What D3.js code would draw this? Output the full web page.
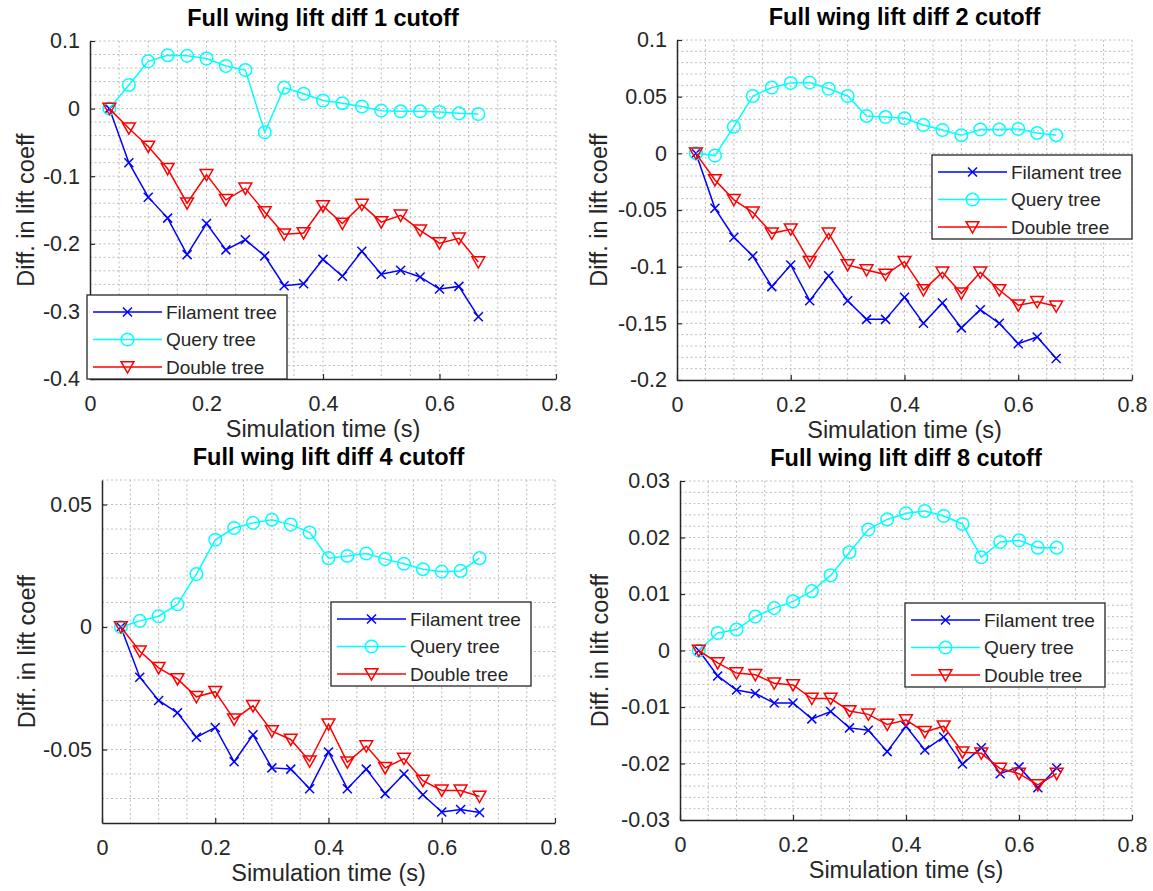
<!DOCTYPE html>
<html>
<head>
<meta charset="utf-8">
<script src="https://cdn.jsdelivr.net/npm/d3@7"></script>
<style>
  body { margin: 0; background: #fff; }
  text { font-family: "Liberation Sans", Arial, Helvetica, sans-serif; }
</style>
</head>
<body>
<script>
// simulation time of each sample (s)
const timeS = [0.0333, 0.0667, 0.1, 0.1333, 0.1667, 0.2, 0.2333, 0.2667, 0.3, 0.3333,
               0.3667, 0.4, 0.4333, 0.4667, 0.5, 0.5333, 0.5667, 0.6, 0.6333, 0.6667];

const seriesNames = ["Filament tree", "Query tree", "Double tree"];
const titles = ["Full wing lift diff 1 cutoff", "Full wing lift diff 2 cutoff",
                "Full wing lift diff 4 cutoff", "Full wing lift diff 8 cutoff"];

const xTicks = [0, 0.2, 0.4, 0.6, 0.8];
const xTickLabels = ["0", "0.2", "0.4", "0.6", "0.8"];

// cutoff 1
const filament1 = [0, -0.080, -0.131, -0.162, -0.216, -0.170, -0.209, -0.194, -0.218, -0.262,
                   -0.259, -0.223, -0.248, -0.211, -0.245, -0.239, -0.249, -0.267, -0.263, -0.308];
const query1 = [0, 0.035, 0.070, 0.079, 0.078, 0.074, 0.063, 0.057, -0.035, 0.031,
                0.022, 0.012, 0.008, 0.003, -0.003, -0.004, -0.004, -0.005, -0.007, -0.008];
const double1 = [0, -0.029, -0.056, -0.089, -0.140, -0.098, -0.135, -0.118, -0.153, -0.186,
                 -0.184, -0.144, -0.170, -0.142, -0.168, -0.158, -0.180, -0.199, -0.192, -0.227];
const yTicks1 = [-0.4, -0.3, -0.2, -0.1, 0, 0.1];
const yTickLabels1 = ["-0.4", "-0.3", "-0.2", "-0.1", "0", "0.1"];

// cutoff 2
const filament2 = [0, -0.0485, -0.074, -0.0906, -0.1176, -0.0985, -0.130, -0.108, -0.130, -0.1465,
                   -0.1465, -0.127, -0.150, -0.132, -0.154, -0.138, -0.150, -0.168, -0.162, -0.181];
const query2 = [0, -0.002, 0.0235, 0.0506, 0.058, 0.062, 0.0624, 0.057, 0.0506, 0.033,
                0.032, 0.031, 0.025, 0.0206, 0.016, 0.021, 0.021, 0.0215, 0.018, 0.016];
const double2 = [0, -0.0235, -0.041, -0.052, -0.0706, -0.067, -0.0956, -0.0706, -0.0985, -0.103,
                 -0.107, -0.0956, -0.1206, -0.105, -0.1235, -0.105, -0.1206, -0.134, -0.131, -0.135];
const yTicks2 = [-0.2, -0.15, -0.1, -0.05, 0, 0.05, 0.1];
const yTickLabels2 = ["-0.2", "-0.15", "-0.1", "-0.05", "0", "0.05", "0.1"];

// cutoff 4
const filament4 = [0, -0.0205, -0.030, -0.035, -0.045, -0.041, -0.055, -0.044, -0.0575, -0.058,
                   -0.066, -0.051, -0.066, -0.058, -0.068, -0.060, -0.0685, -0.0755, -0.0745, -0.0757];
const query4 = [0, 0.0025, 0.0044, 0.0093, 0.0216, 0.0356, 0.0404, 0.0425, 0.0438, 0.0418,
                0.0386, 0.0281, 0.029, 0.030, 0.0277, 0.0258, 0.0236, 0.0226, 0.0229, 0.0281];
const double4 = [0, -0.0099, -0.0167, -0.0212, -0.0285, -0.0264, -0.0377, -0.0322, -0.0425, -0.0459,
                 -0.0548, -0.0397, -0.0552, -0.0486, -0.0575, -0.0537, -0.0627, -0.0667, -0.0667, -0.0692];
const yTicks4 = [-0.05, 0, 0.05];
const yTickLabels4 = ["-0.05", "0", "0.05"];

// cutoff 8
const filament8 = [0, -0.0045, -0.0070, -0.0076, -0.0093, -0.0093, -0.0121, -0.0108, -0.0137, -0.0141,
                   -0.0179, -0.0134, -0.0176, -0.0153, -0.0201, -0.0172, -0.0218, -0.0206, -0.0243, -0.0208];
const query8 = [0, 0.0031, 0.0037, 0.0060, 0.0075, 0.0087, 0.0105, 0.0133, 0.0174, 0.0214,
                0.0232, 0.0243, 0.0247, 0.0238, 0.0224, 0.0165, 0.0192, 0.0195, 0.0182, 0.0182];
const double8 = [0, -0.0022, -0.0040, -0.0043, -0.0058, -0.0061, -0.0085, -0.0085, -0.0107, -0.0113,
                 -0.0131, -0.0123, -0.0144, -0.0134, -0.0180, -0.0182, -0.0209, -0.0218, -0.0238, -0.0218];
const yTicks8 = [-0.03, -0.02, -0.01, 0, 0.01, 0.02, 0.03];
const yTickLabels8 = ["-0.03", "-0.02", "-0.01", "0", "0.01", "0.02", "0.03"];

const colors = ["#0000ff", "#00ffff", "#ff0000"];
const markers = ["x", "o", "v"];
const ink = "#262626";   // matlab axes grey-black

// layout of the four axes
const panels = [
  { title: titles[0], series: [filament1, query1, double1], yDomain: [-0.4, 0.1], yTicks: yTicks1, yLabels: yTickLabels1, yMinor: 0.02,
    left: 90, right: 556, top: 41, bottom: 379, ylabX: 34, legend: [87, 295] },
  { title: titles[1], series: [filament2, query2, double2], yDomain: [-0.2, 0.1], yTicks: yTicks2, yLabels: yTickLabels2, yMinor: 0.01,
    left: 677, right: 1132, top: 40, bottom: 380, ylabX: 607, legend: [932, 155] },
  { title: titles[2], series: [filament4, query4, double4], yDomain: [-0.08, 0.06], yTicks: yTicks4, yLabels: yTickLabels4, yMinor: 0.01,
    left: 102, right: 555, top: 480, bottom: 823, ylabX: 35, legend: [331, 602] },
  { title: titles[3], series: [filament8, query8, double8], yDomain: [-0.03, 0.03], yTicks: yTicks8, yLabels: yTickLabels8, yMinor: 0.002,
    left: 680, right: 1132, top: 481, bottom: 820, ylabX: 608, legend: [905, 603] }
];

const svg = d3.select("body").append("svg")
    .attr("width", 1153)
    .attr("height", 891);

// draw one marker symbol into a group
function drawMarker(sel, type, color) {
  if (type === "x") {
    const s = 4.5;
    sel.append("path")
       .attr("d", `M${-s},${-s}L${s},${s}M${-s},${s}L${s},${-s}`)
       .attr("stroke", color).attr("stroke-width", 1.5).attr("fill", "none");
  } else if (type === "o") {
    sel.append("circle").attr("r", 6.3)
       .attr("stroke", color).attr("stroke-width", 1.5).attr("fill", "none");
  } else {
    sel.append("path")
       .attr("d", "M-6.4,-5.3L6.4,-5.3L0,6Z")
       .attr("stroke", color).attr("stroke-width", 1.5).attr("fill", "none");
  }
}

panels.forEach(function(p) {
  const x = d3.scaleLinear().domain([0, 0.8]).range([p.left, p.right]);
  const y = d3.scaleLinear().domain(p.yDomain).range([p.bottom, p.top]);
  const g = svg.append("g");

  // GRID (major + minor, all dotted)
  const gridX = d3.range(1, 17).map(i => i * 0.05);
  const nMinor = Math.round((p.yDomain[1] - p.yDomain[0]) / p.yMinor);
  const gridY = d3.range(1, nMinor + 1).map(i => p.yDomain[0] + i * p.yMinor);

  g.selectAll(".gx").data(gridX).enter().append("line")
    .attr("x1", d => x(d)).attr("x2", d => x(d))
    .attr("y1", p.top).attr("y2", p.bottom)
    .attr("stroke", "#bdbdbd").attr("stroke-width", 1).attr("stroke-dasharray", "2,2.5");
  g.selectAll(".gy").data(gridY).enter().append("line")
    .attr("x1", p.left).attr("x2", p.right)
    .attr("y1", d => y(d)).attr("y2", d => y(d))
    .attr("stroke", "#bdbdbd").attr("stroke-width", 1).attr("stroke-dasharray", "2,2.5");

  // AXES
  const xAxis = d3.axisBottom(x).tickValues(xTicks)
      .tickFormat((d, i) => xTickLabels[i])
      .tickSizeInner(-5).tickSizeOuter(0).tickPadding(17);
  const yAxis = d3.axisLeft(y).tickValues(p.yTicks)
      .tickFormat((d, i) => p.yLabels[i])
      .tickSizeInner(-5).tickSizeOuter(0).tickPadding(10);

  const gx = g.append("g").attr("transform", "translate(0," + p.bottom + ")").call(xAxis);
  const gy = g.append("g").attr("transform", "translate(" + p.left + ",0)").call(yAxis);
  [gx, gy].forEach(a => {
    a.attr("font-family", null).attr("font-size", null);
    a.select(".domain").attr("stroke", ink).attr("stroke-width", 1.5);
    a.selectAll(".tick line").attr("stroke", ink).attr("stroke-width", 1.2);
    a.selectAll("text").style("font-size", "21.5px").attr("fill", ink);
  });

  // TITLE + LABELS
  g.append("text")
    .attr("x", (p.left + p.right) / 2).attr("y", p.top - 15)
    .attr("text-anchor", "middle")
    .style("font-size", "23.5px").style("font-weight", "bold")
    .attr("fill", "#000")
    .text(p.title);
  g.append("text")
    .attr("x", (p.left + p.right) / 2).attr("y", p.bottom + 58)
    .attr("text-anchor", "middle")
    .style("font-size", "23.5px").attr("fill", ink)
    .text("Simulation time (s)");
  g.append("text")
    .attr("transform", "translate(" + p.ylabX + "," + ((p.top + p.bottom) / 2) + ") rotate(-90)")
    .attr("text-anchor", "middle")
    .style("font-size", "23.5px").attr("fill", ink)
    .text("Diff. in lift coeff");

  // DATA
  const line = d3.line().x((d, i) => x(timeS[i])).y(d => y(d));
  p.series.forEach(function(vals, k) {
    g.append("path").datum(vals)
      .attr("d", line)
      .attr("fill", "none").attr("stroke", colors[k]).attr("stroke-width", 1.5);
    g.selectAll(".m" + k).data(vals).enter().append("g")
      .attr("transform", (d, i) => "translate(" + x(timeS[i]) + "," + y(d) + ")")
      .each(function() { drawMarker(d3.select(this), markers[k], colors[k]); });
  });

  // LEGEND
  const lg = g.append("g").attr("transform", "translate(" + p.legend[0] + "," + p.legend[1] + ")");
  lg.append("rect").attr("width", 200).attr("height", 84)
    .attr("fill", "#fff").attr("stroke", ink).attr("stroke-width", 1.3);
  seriesNames.forEach(function(name, k) {
    const ry = 17 + k * 27.5;
    lg.append("line").attr("x1", 6).attr("x2", 75).attr("y1", ry).attr("y2", ry)
      .attr("stroke", colors[k]).attr("stroke-width", 1.5);
    drawMarker(lg.append("g").attr("transform", "translate(40.5," + ry + ")"), markers[k], colors[k]);
    lg.append("text").attr("x", 79).attr("y", ry).attr("dy", "0.36em")
      .style("font-size", "19px").attr("fill", ink)
      .text(name);
  });
});
</script>
</body>
</html>
